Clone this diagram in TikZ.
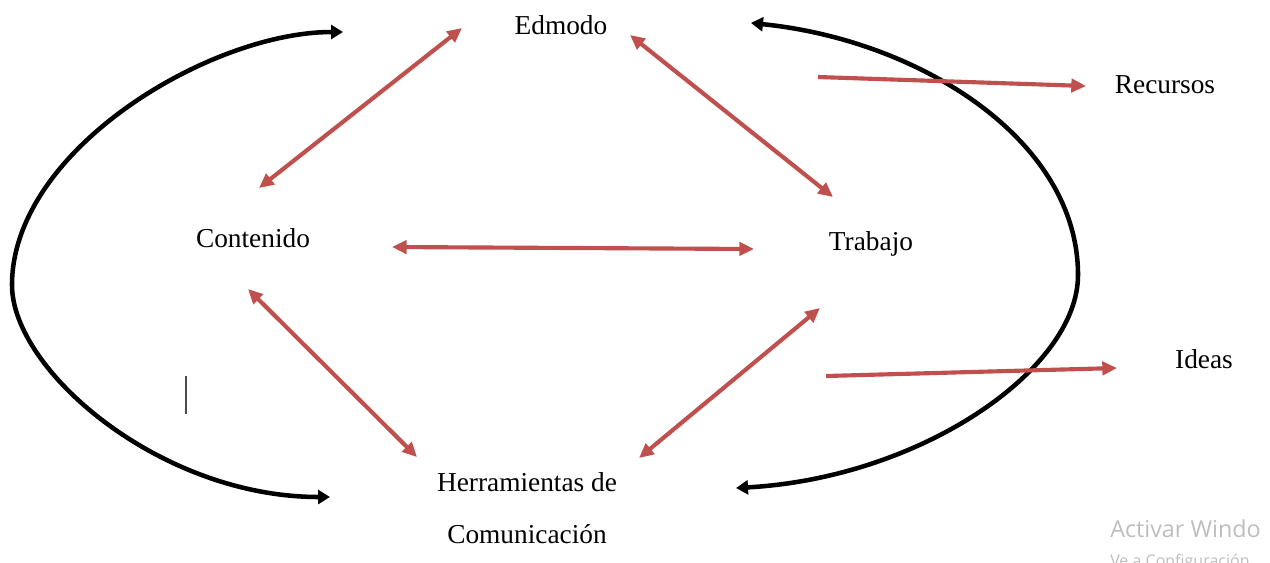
\documentclass[tikz,border=0pt]{standalone}
\usepackage{fontspec}
\setmainfont{Liberation Serif}
\newfontfamily\winfont{Open Sans}
\usetikzlibrary{arrows.meta}
\definecolor{redarr}{RGB}{192,80,77}
\definecolor{wmgray}{RGB}{190,190,190}
\begin{document}
\begin{tikzpicture}[x=0.75pt,y=-0.75pt,
  lbl/.style={font=\fontsize{20.5}{24}\selectfont, inner sep=0pt, anchor=base},
  wm/.style={font=\winfont\fontsize{17.5}{20}\selectfont, text=wmgray, inner sep=0pt, anchor=base west},
  wmsmall/.style={font=\winfont\fontsize{12}{14}\selectfont, text=wmgray, inner sep=0pt, anchor=base west},
  redboth/.style={draw=redarr, line width=3.1pt, {Triangle[length=11pt,width=10pt]}-{Triangle[length=11pt,width=10pt]}},
  redone/.style={draw=redarr, line width=3.1pt, -{Triangle[length=11pt,width=10pt]}},
  blackarc/.style={draw=black, line width=3.4pt, {Triangle[length=9pt,width=10.5pt]}-{Triangle[length=9pt,width=10.5pt]}}
]
\clip (0,0) rectangle (1270,562);
\fill[white] (0,0) rectangle (1270,562);

% labels
\node[lbl] (edmodo) at (561,34) {Edmodo};
\node[lbl] (recursos) at (1165,93) {Recursos};
\node[lbl] (contenido) at (253,247) {Contenido};
\node[lbl] (trabajo) at (871,250) {Trabajo};
\node[lbl] (ideas) at (1204,368) {Ideas};
\node[lbl] (herr) at (527,491) {Herramientas de};
\node[lbl] (comu) at (527,543) {Comunicación};

% watermark
\node[wm] (act) at (1110,537) {Activar Windo};
\node[wmsmall] (conf) at (1110,566) {Ve a Configuración};

% cursor
\coordinate (cur1) at (186,376);
\coordinate (cur2) at (186,414);
\draw[line width=1.1pt, black!70] (cur1) -- (cur2);

% black arcs
\coordinate (L1) at (343,32);
\coordinate (Lm) at (12,285);
\coordinate (L2) at (330,497);
\draw[blackarc] (L1) .. controls (210,32) and (12,150) .. (Lm) .. controls (12,370) and (160,497) .. (L2);
\coordinate (R1) at (751,23);
\coordinate (Rm) at (1078,275);
\coordinate (R2) at (736,488);
\draw[blackarc] (R1) .. controls (920,40) and (1078,140) .. (Rm) .. controls (1078,370) and (920,478) .. (R2);

% red arrows
\coordinate (ec1) at (462,28);  \coordinate (ec2) at (259,188);
\coordinate (et1) at (630,35);  \coordinate (et2) at (833,197);
\coordinate (ct1) at (392,247); \coordinate (ct2) at (754,249);
\coordinate (ch1) at (248,289); \coordinate (ch2) at (417,457);
\coordinate (th1) at (820,308); \coordinate (th2) at (639,458);
\coordinate (re1) at (818,77);  \coordinate (re2) at (1086,86);
\coordinate (id1) at (826,376); \coordinate (id2) at (1117,368);
\draw[redboth] (ec1) -- (ec2);
\draw[redboth] (et1) -- (et2);
\draw[redboth] (ct1) -- (ct2);
\draw[redboth] (ch1) -- (ch2);
\draw[redboth] (th1) -- (th2);
\draw[redone] (re1) -- (re2);
\draw[redone] (id1) -- (id2);
\end{tikzpicture}
\end{document}
